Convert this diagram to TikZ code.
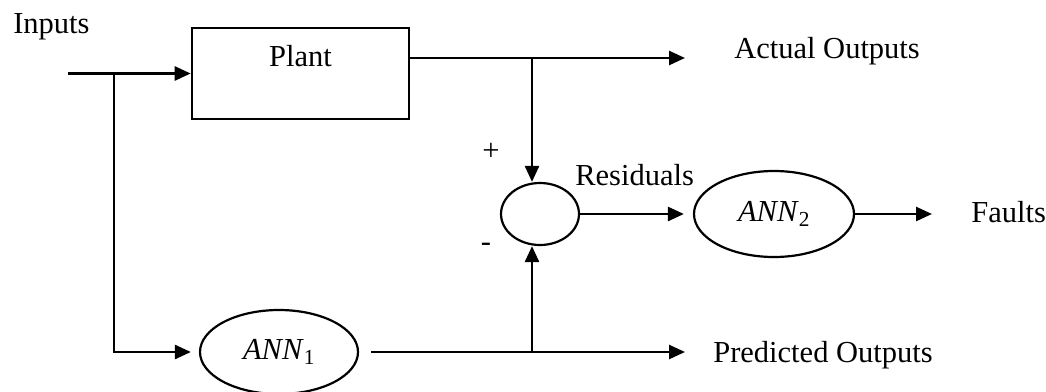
\documentclass[tikz,border=0pt]{standalone}
\usepackage{fontspec}
\setmainfont{Liberation Serif}
\usetikzlibrary{arrows.meta,shapes.geometric}
\begin{document}
\begin{tikzpicture}[x=1pt,y=-1pt,
  line width=2.6pt,
  arr/.style={-{Triangle[length=16pt,width=14pt]}},
  lbl/.style={inner sep=0pt,font=\fontsize{30.5}{36}\selectfont},
  ell/.style={draw,ellipse,inner sep=0pt,line width=2.2pt,font=\fontsize{30.5}{36}\selectfont}]
\useasboundingbox (0,0) rectangle (1046,391);
% nodes
\node[draw,rectangle,minimum width=217pt,minimum height=91pt,inner ysep=0pt,
      text height=20pt,text depth=35pt,font=\fontsize{30.5}{36}\selectfont]
      (plant) at (300.5,73.5) {Plant};
\node[ell,minimum width=78pt,minimum height=62pt] (sum) at (540,214) {};
\node[ell,minimum width=160pt,minimum height=86pt] (ann2) at (774,214) {\textit{ANN}\textsubscript{2}};
\node[ell,minimum width=158pt,minimum height=84pt] (ann1) at (279,352) {\textit{ANN}\textsubscript{1}};
\node[lbl,anchor=base west] (inputs) at (12,33) {Inputs};
\node[lbl,anchor=base west] (act) at (733,58) {Actual Outputs};
\node[lbl,anchor=base west] (res) at (574,185) {Residuals};
\node[lbl,anchor=base west] (faults) at (970,222) {Faults};
\node[lbl,anchor=base west] (pred) at (712,362) {Predicted Outputs};
\node[lbl] (plus) at (491,152) {+};
\node[lbl] (minus) at (486,247) {-};
% coordinates
\coordinate (in) at (68,73.5);
\coordinate (b0) at (114,73.5);
\coordinate (po) at ([yshift=15.5pt]plant.east);
\coordinate (b1) at (532,58);
\coordinate (b2) at (532,352);
% connectors
\draw[arr] (in) -- (plant.west);
\draw[arr,shorten >=8pt] (b0) |- (ann1.west);
\draw[arr,shorten >=48pt] (po) -- (po -| act.west);
\draw[arr] (b1) -- (b1 |- sum.north);
\draw[arr] (b2) -- (b2 |- sum.south);
\draw[arr,shorten >=9pt] (sum.east) -- (ann2.west);
\draw[arr,shorten >=38pt] (ann2.east) -- (ann2.east -| faults.west);
\draw[arr,shorten <=12pt,shorten >=27pt] (ann1.east) -- (ann1.east -| pred.west);
\end{tikzpicture}
\end{document}
